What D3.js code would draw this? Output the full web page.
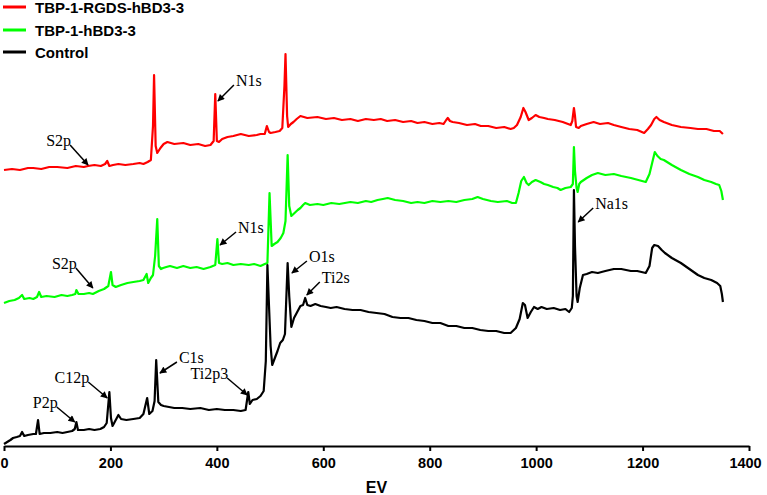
<!DOCTYPE html>
<html lang="en">
<head>
<meta charset="UTF-8">
<title>XPS survey spectra</title>
<style>
  body { margin: 0; background: #fff; }
  svg { display: block; background: #fff; }

  .axis path, .axis line { stroke: #000; stroke-width: 2px; }
  .axis text {
    font-family: "Liberation Sans", Arial, sans-serif;
    font-weight: bold;
    font-size: 14.5px;
    fill: #000;
  }
  .axis-title {
    font-family: "Liberation Sans", Arial, sans-serif;
    font-weight: bold;
    font-size: 16px;
  }
  .spectrum { fill: none; stroke-width: 2.2px; stroke-linejoin: round; }
  .legend text {
    font-family: "Liberation Sans", Arial, sans-serif;
    font-weight: bold;
    font-size: 15px;
  }
  .peak line { stroke: #000; stroke-width: 1.5px; }
  .peak text {
    font-family: "Liberation Serif", "Times New Roman", serif;
    font-size: 16px;
    fill: #000;
  }
</style>
</head>
<body>
<svg width="767" height="495"></svg>

<script src="https://cdn.jsdelivr.net/npm/d3@7"></script>
<script>
// ---- data : binding energy (eV) , intensity (a.u.) ----
const seriesNames = ["TBP-1-RGDS-hBD3-3", "TBP-1-hBD3-3", "Control"];

const rgdsSpectrum = [
  [0,276],[15,277],[30,276],[45,278],[55,278],[70,277],[85,279],[100,279],[119,278],[135,280],
  [150,279],[158,280],[170,281],[182,280],[190,282],[194,285],[198,280],[205,281],[215,282],[228,281],
  [243,282],[255,283],[262,282],[270,284],[276,286],[280,320],[282,371],[285,300],[288,293],[294,298],
  [300,302],[307,304],[320,302],[337,303],[350,301],[365,302],[378,300],[388,301],[394,305],[397,352],
  [400,305],[404,304],[410,307],[420,309],[431,310],[445,312],[460,310],[475,311],[482,312],[490,312],
  [494,320],[498,314],[501,313],[510,314],[518,315],[523,318],[527,360],[529,392],[532,330],[534,319],
  [539,322],[544,324],[550,327],[557,330],[570,328],[589,329],[605,327],[620,328],[635,326],[651,327],
  [665,325],[680,327],[695,326],[708,327],[720,325],[735,326],[750,324],[765,325],[777,323],[790,324],
  [805,322],[818,323],[826,322],[831,326],[834,328],[838,325],[843,324],[855,323],[870,321],[885,322],
  [896,320],[910,320],[925,318],[940,319],[952,317],[958,318],[964,321],[971,329],[976,338],[980,334],
  [986,326],[992,328],[999,331],[1006,329],[1015,328],[1022,327],[1035,326],[1050,324],[1060,322],[1065,321],
  [1068,325],[1071,338],[1073,330],[1075,319],[1080,318],[1084,320],[1095,322],[1108,324],[1120,322],[1135,323],
  [1146,321],[1160,319],[1175,317],[1190,316],[1203,313],[1210,317],[1216,321],[1222,327],[1226,329],[1232,326],
  [1240,324],[1255,321],[1272,319],[1290,318],[1304,317],[1320,317],[1334,315],[1345,315],[1351,312]
];

const hbdSpectrum = [
  [0,143],[10,145],[20,146],[28,148],[34,151],[38,147],[48,148],[55,147],[62,149],[66,154],
  [70,149],[80,150],[95,149],[108,151],[119,150],[128,151],[134,152],[136,156],[140,152],[150,152],
  [160,153],[167,152],[178,155],[188,157],[196,160],[201,174],[204,161],[210,159],[220,161],[232,163],
  [243,164],[255,165],[262,166],[268,172],[271,163],[276,168],[280,171],[284,190],[288,227],[291,180],
  [295,177],[299,178],[305,179],[312,180],[325,178],[337,180],[350,178],[362,179],[375,177],[388,179],
  [397,181],[401,207],[404,183],[410,182],[420,183],[431,181],[445,182],[460,181],[470,182],[482,180],
  [490,182],[495,183],[499,253],[503,200],[508,202],[514,204],[520,208],[525,213],[529,225],[533,291],
  [536,240],[540,230],[544,232],[548,234],[552,236],[557,238],[562,241],[566,243],[575,241],[589,242],
  [600,241],[615,243],[630,242],[651,244],[665,243],[680,245],[690,244],[702,246],[712,247],[721,248],
  [735,246],[750,245],[765,243],[777,244],[790,243],[805,245],[820,244],[835,245],[850,244],[865,246],
  [880,247],[890,249],[900,247],[915,245],[928,244],[945,245],[955,243],[962,243],[967,253],[972,265],
  [977,269],[982,263],[986,261],[992,264],[999,266],[1008,264],[1015,262],[1022,261],[1032,259],[1040,258],
  [1046,256],[1055,258],[1065,259],[1069,262],[1071,299],[1073,275],[1076,258],[1078,254],[1081,262],[1084,264],
  [1095,268],[1105,271],[1116,273],[1130,271],[1146,272],[1160,270],[1178,268],[1192,266],[1206,264],[1213,272],
  [1218,283],[1223,294],[1228,290],[1234,287],[1240,286],[1255,281],[1272,276],[1288,272],[1304,269],[1316,266],
  [1329,264],[1338,262],[1344,261],[1348,255],[1351,246]
];

const controlSpectrum = [
  [0,2],[6,4],[12,6],[17,8],[24,9],[30,10],[34,14],[38,10],[45,11],[55,12],
  [60,12],[64,26],[67,12],[75,13],[87,13],[100,14],[110,13],[119,14],[128,15],[133,17],
  [136,24],[139,16],[150,16],[160,17],[170,16],[181,17],[188,19],[193,23],[198,54],[201,28],
  [204,20],[209,25],[215,31],[220,27],[230,26],[243,27],[255,28],[262,32],[269,48],[273,32],
  [279,35],[283,45],[286,86],[290,44],[295,41],[300,40],[310,39],[320,38],[335,38],[350,37],
  [369,38],[385,36],[400,37],[415,36],[431,36],[445,35],[454,36],[459,54],[462,42],[467,46],
  [475,47],[482,50],[488,55],[492,85],[495,181],[498,140],[501,100],[504,81],[509,88],[514,95],
  [519,103],[524,106],[528,112],[533,183],[536,150],[540,119],[545,128],[551,134],[557,140],[562,141],
  [566,148],[570,141],[576,140],[585,142],[595,140],[605,139],[614,138],[625,139],[640,137],[655,136],
  [670,136],[685,134],[700,133],[715,132],[730,129],[745,128],[760,128],[775,126],[790,125],[805,123],
  [820,123],[835,120],[850,120],[865,118],[880,118],[895,116],[910,115],[925,115],[940,113],[952,113],
  [962,118],[969,127],[975,143],[979,141],[984,128],[990,134],[996,139],[1003,137],[1010,139],[1020,137],
  [1033,138],[1045,136],[1055,137],[1062,134],[1067,138],[1069,150],[1071,256],[1073,200],[1076,150],[1078,144],
  [1082,158],[1088,171],[1095,172],[1105,174],[1116,173],[1130,175],[1146,177],[1160,177],[1178,175],[1190,175],
  [1206,173],[1213,180],[1218,198],[1222,201],[1229,200],[1236,196],[1242,193],[1255,188],[1272,183],[1288,177],
  [1304,171],[1316,168],[1329,166],[1340,163],[1346,160],[1349,152],[1351,144]
];

const xTicks = [0, 200, 400, 600, 800, 1000, 1200, 1400];

// peak annotations: which series, label, energy and intensity the arrow points at
const peakSeries = [0, 0, 1, 1, 2, 2, 2, 2, 2, 2, 2];
const peakNames  = ["S2p", "N1s", "S2p", "N1s", "P2p", "C12p", "C1s", "Ti2p3", "O1s", "Ti2s", "Na1s"];
const peakEV     = [158, 402, 167, 406, 133, 194, 293, 457, 541, 569, 1079];
const peakLevel  = [281, 345, 158, 201, 24, 48, 73, 51, 173, 151, 224];

// ---- layout ----
const width = 767, height = 495;
const colors = ["#ff0000", "#00ff00", "#000000"];
// arrow tail offset (px) from the arrow tip, text sits at the tail
const arrowOffsets = [[-18,-20],[16,-16],[-17,-20],[16,-13],[-18,-15],[-19,-16],[17,-11],[-20,-17],[15,-12],[13,-13],[15,-14]];

const svg = d3.select("svg").attr("width", width).attr("height", height);

const x = d3.scaleLinear().domain([0, 1400]).range([4, 749]);
const y = d3.scaleLinear().domain([0, 446]).range([446, 0]);

svg.append("defs").append("marker")
    .attr("id", "arrow")
    .attr("viewBox", "0 0 10 10")
    .attr("refX", 9).attr("refY", 5)
    .attr("markerUnits", "userSpaceOnUse")
    .attr("markerWidth", 9).attr("markerHeight", 7)
    .attr("orient", "auto")
  .append("path")
    .attr("d", "M0,0 L10,5 L0,10 Z")
    .attr("fill", "#000");

// spectra
const line = d3.line().x(d => x(d[0])).y(d => y(d[1]));
[rgdsSpectrum, hbdSpectrum, controlSpectrum].forEach((s, i) => {
  svg.append("path")
      .datum(s)
      .attr("class", "spectrum")
      .attr("stroke", colors[i])
      .attr("d", line);
});

// x axis
const xAxis = svg.append("g")
    .attr("class", "axis")
    .attr("transform", `translate(0,${y(0)})`)
    .call(d3.axisBottom(x).tickValues(xTicks).tickFormat(d3.format("d"))
      .tickSize(5).tickSizeOuter(0).tickPadding(7));
xAxis.selectAll(".tick text").filter(d => d === 1400).attr("dx", -4);

svg.append("text")
    .attr("class", "axis-title")
    .attr("x", (x.range()[0] + x.range()[1]) / 2)
    .attr("y", 493)
    .attr("text-anchor", "middle")
    .text("EV");

// peak labels with arrows
const peaks = svg.append("g").attr("class", "peak");
peakNames.forEach((name, i) => {
  const tx = x(peakEV[i]), ty = y(peakLevel[i]);
  const [ox, oy] = arrowOffsets[i];
  const sx = tx + ox, sy = ty + oy;
  peaks.append("line")
      .attr("x1", sx).attr("y1", sy)
      .attr("x2", tx).attr("y2", ty)
      .attr("marker-end", "url(#arrow)");
  peaks.append("text")
      .attr("x", ox < 0 ? sx + 1 : sx + 2)
      .attr("y", sy + 1)
      .attr("text-anchor", ox < 0 ? "end" : "start")
      .text(name);
});

// legend
const legend = svg.append("g").attr("class", "legend");
const legendY = [7, 30, 52];
seriesNames.forEach((name, i) => {
  legend.append("line")
      .attr("x1", 3).attr("x2", 26)
      .attr("y1", legendY[i]).attr("y2", legendY[i])
      .attr("stroke", colors[i])
      .attr("stroke-width", 3);
  legend.append("text")
      .attr("x", 35)
      .attr("y", legendY[i] + 5.5)
      .text(name);
});
</script>
</body>
</html>
